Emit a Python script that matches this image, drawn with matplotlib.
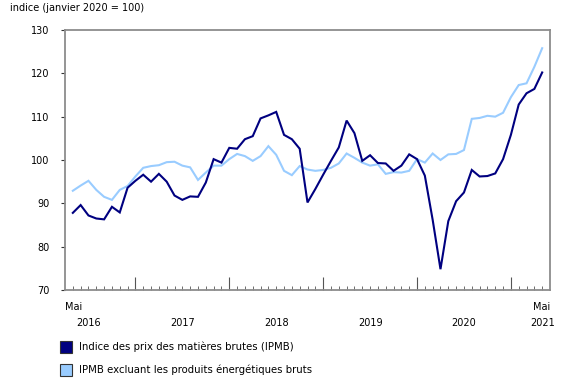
import matplotlib
matplotlib.use("Agg")
import matplotlib.pyplot as plt
from matplotlib.patches import Rectangle

ipmb = [87.8, 89.6, 87.2, 86.5, 86.3, 89.2, 87.9, 93.6, 95.2, 96.6,
        95.0, 96.8, 95.0, 91.8, 90.8, 91.6, 91.5, 94.8, 100.2, 99.4,
        102.8, 102.6, 104.8, 105.5, 109.6, 110.3, 111.1, 105.8, 104.8, 102.6,
        90.2, 93.3, 96.6, 99.8, 102.9, 109.1, 106.2, 99.8, 101.1, 99.3,
        99.2, 97.5, 98.7, 101.3, 100.2, 96.4, 86.2, 74.8, 85.9, 90.5,
        92.5, 97.7, 96.2, 96.3, 96.9, 100.2, 105.8, 112.8, 115.4, 116.4,
        120.2]
ipmb_ex = [92.9, 94.1, 95.2, 93.1, 91.5, 90.8, 93.1, 94.0, 96.2, 98.2,
           98.6, 98.8, 99.5, 99.6, 98.7, 98.3, 95.4, 97.1, 98.7, 98.7,
           100.2, 101.4, 100.9, 99.8, 100.9, 103.2, 101.2, 97.5, 96.5, 98.6,
           97.8, 97.5, 97.7, 98.2, 99.2, 101.5, 100.5, 99.4, 98.7, 99.0,
           96.8, 97.2, 97.1, 97.5, 100.2, 99.4, 101.5, 100.0, 101.3, 101.4,
           102.3, 109.5, 109.7, 110.2, 110.0, 110.9, 114.5, 117.3, 117.7, 121.5,
           125.8]
year_labels = ["2016", "2017", "2018", "2019", "2020", "2021"]
year_pos = [2, 14, 26, 38, 50, 60]
y_ticks = [70, 80, 90, 100, 110, 120, 130]
series_names = ["Indice des prix des matières brutes (IPMB)",
                "IPMB excluant les produits énergétiques bruts"]
colors = ["#000080", "#99CCFF"]

plt.rcParams['font.family'] = ['DejaVu Sans']
fig = plt.figure(figsize=(5.8, 3.85), dpi=100)
ax = fig.add_axes([65/580, 1-290/385, 485/580, 260/385])

x = list(range(len(ipmb)))
ax.plot(x, ipmb_ex, color=colors[1], lw=1.5, solid_joinstyle='miter')
ax.plot(x, ipmb, color=colors[0], lw=1.5, solid_joinstyle='miter')

ax.set_xlim(-1, 61)
ax.set_ylim(70, 130)
ax.set_yticks(y_ticks)
ax.tick_params(axis='y', length=3, color='#333333', labelsize=7, pad=8, direction='out')
ax.set_xticks([i for i in x if (i + 4) % 12 == 0])
ax.set_xticks([i for i in x if (i + 4) % 12 != 0], minor=True)
ax.tick_params(axis='x', which='major', direction='in', length=9.5, color='#555555', labelbottom=False)
ax.tick_params(axis='x', which='minor', direction='in', length=3, color='#555555')
for s in ax.spines.values():
    s.set_color('#8c8c8c')
    s.set_linewidth(1.3)

tr = ax.get_xaxis_transform()
ax.text(-1, -0.045, "Mai", transform=tr, ha='left', va='top', fontsize=7)
ax.text(61, -0.045, "Mai", transform=tr, ha='right', va='top', fontsize=7)
for lab, p in zip(year_labels, year_pos):
    ax.text(p, -0.108, lab, transform=tr, ha='center', va='top', fontsize=7)

fig.text(10/580, 1-8/385, "indice (janvier 2020 = 100)", ha='left', va='center', fontsize=7)

for k, (name, c) in enumerate(zip(series_names, colors)):
    yc = 347 + 23*k
    fig.patches.append(Rectangle((60/580, 1-(yc+6)/385), 12/580, 12/385,
                                 transform=fig.transFigure, facecolor=c,
                                 edgecolor='#333333', lw=0.8))
    fig.text(79/580, 1-yc/385, name, ha='left', va='center', fontsize=7.3)

fig.savefig("out.png", dpi=100)
